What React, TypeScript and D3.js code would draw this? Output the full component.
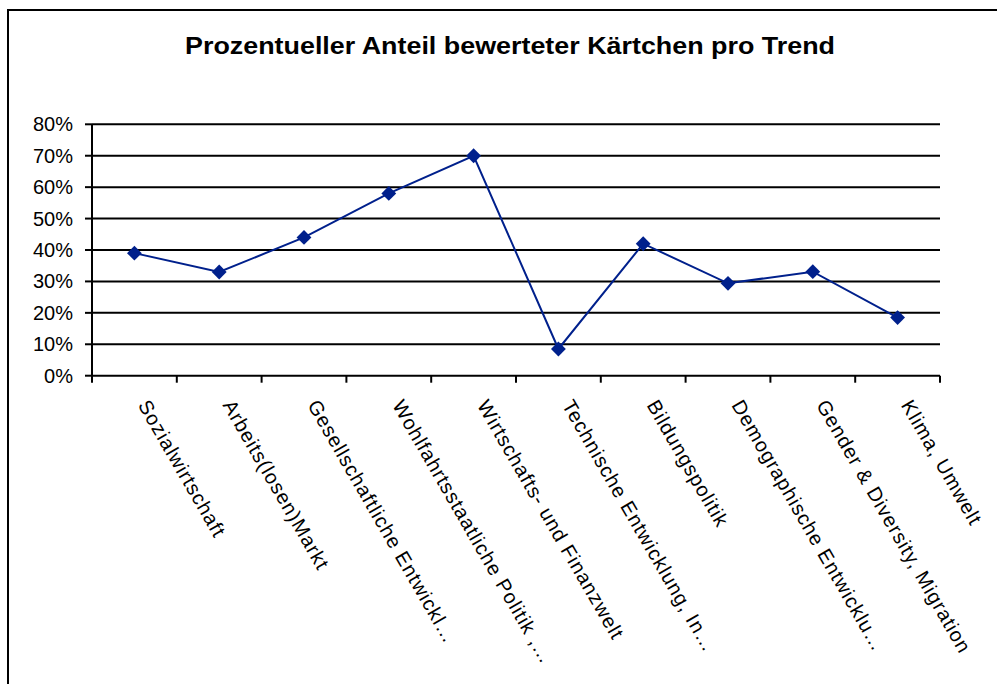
import React from "react";
import * as d3 from "d3";

const title = "Prozentueller Anteil bewerteter Kärtchen pro Trend";
const categories = [
  "Sozialwirtschaft",
  "Arbeits(losen)Markt",
  "Gesellschaftliche Entwickl…",
  "Wohlfahrtsstaatliche Politik ,…",
  "Wirtschafts- und Finanzwelt",
  "Technische Entwicklung, In…",
  "Bildungspolitik",
  "Demographische Entwicklu…",
  "Gender & Diversity, Migration",
  "Klima, Umwelt",
];
const values = [0.39, 0.33, 0.44, 0.58, 0.70, 0.085, 0.42, 0.294, 0.331, 0.185];
const yTicks = [0, 0.1, 0.2, 0.3, 0.4, 0.5, 0.6, 0.7, 0.8];

const W = 997;
const H = 684;
const left = 92;
const right = 940;
const top = 124.3;
const bottom = 375.7;
const lineColor = "#00208C";
const font = "'Liberation Sans', Arial, sans-serif";

export default function App() {
  const x = d3.scaleBand<string>().domain(categories).range([left, right]).padding(0);
  const y = d3.scaleLinear().domain([0, 0.8]).range([bottom, top]);
  const cx = (c: string) => (x(c) as number) + x.bandwidth() / 2;
  const line = d3
    .line<number>()
    .x((_, i) => cx(categories[i]))
    .y((d) => y(d));
  const pct = d3.format(".0%");
  const diamond = d3.symbol().type(d3.symbolDiamond2).size(140)();
  const boundaries = [...categories.map((c) => x(c) as number), right];

  return (
    <svg
      width={W}
      height={H}
      style={{ position: "absolute", left: 0, top: 0, background: "#fff" }}
      fontFamily={font}
    >
      <rect x={0} y={0} width={W} height={H} fill="#fff" />
      <rect x={8} y={10} width={1100} height={800} fill="none" stroke="#000" strokeWidth={2} />
      <text
        x={510}
        y={54}
        textAnchor="middle"
        fontSize={24}
        fontWeight="bold"
        textLength={650}
        lengthAdjust="spacingAndGlyphs"
      >
        {title}
      </text>
      {yTicks.map((t) => (
        <line key={"g" + t} x1={left} x2={right} y1={y(t)} y2={y(t)} stroke="#000" strokeWidth={2} />
      ))}
      <line x1={left} x2={left} y1={top} y2={bottom + 1} stroke="#000" strokeWidth={2} />
      {yTicks.map((t) => (
        <g key={"yt" + t}>
          <line x1={left - 7} x2={left} y1={y(t)} y2={y(t)} stroke="#000" strokeWidth={2} />
          <text x={73} y={y(t)} dy="0.35em" textAnchor="end" fontSize={20}>
            {pct(t)}
          </text>
        </g>
      ))}
      {boundaries.map((b, i) => (
        <line key={"xt" + i} x1={b} x2={b} y1={bottom} y2={bottom + 7} stroke="#000" strokeWidth={2} />
      ))}
      {categories.map((c) => (
        <text
          key={"xl" + c}
          transform={`translate(${cx(c) + 3},405) rotate(60)`}
          fontSize={20}
          letterSpacing={1}
        >
          {c}
        </text>
      ))}
      <path d={line(values) as string} fill="none" stroke={lineColor} strokeWidth={2} />
      {values.map((v, i) => (
        <path key={"m" + i} d={diamond as string} transform={`translate(${cx(categories[i])},${y(v)})`} fill={lineColor} />
      ))}
    </svg>
  );
}
